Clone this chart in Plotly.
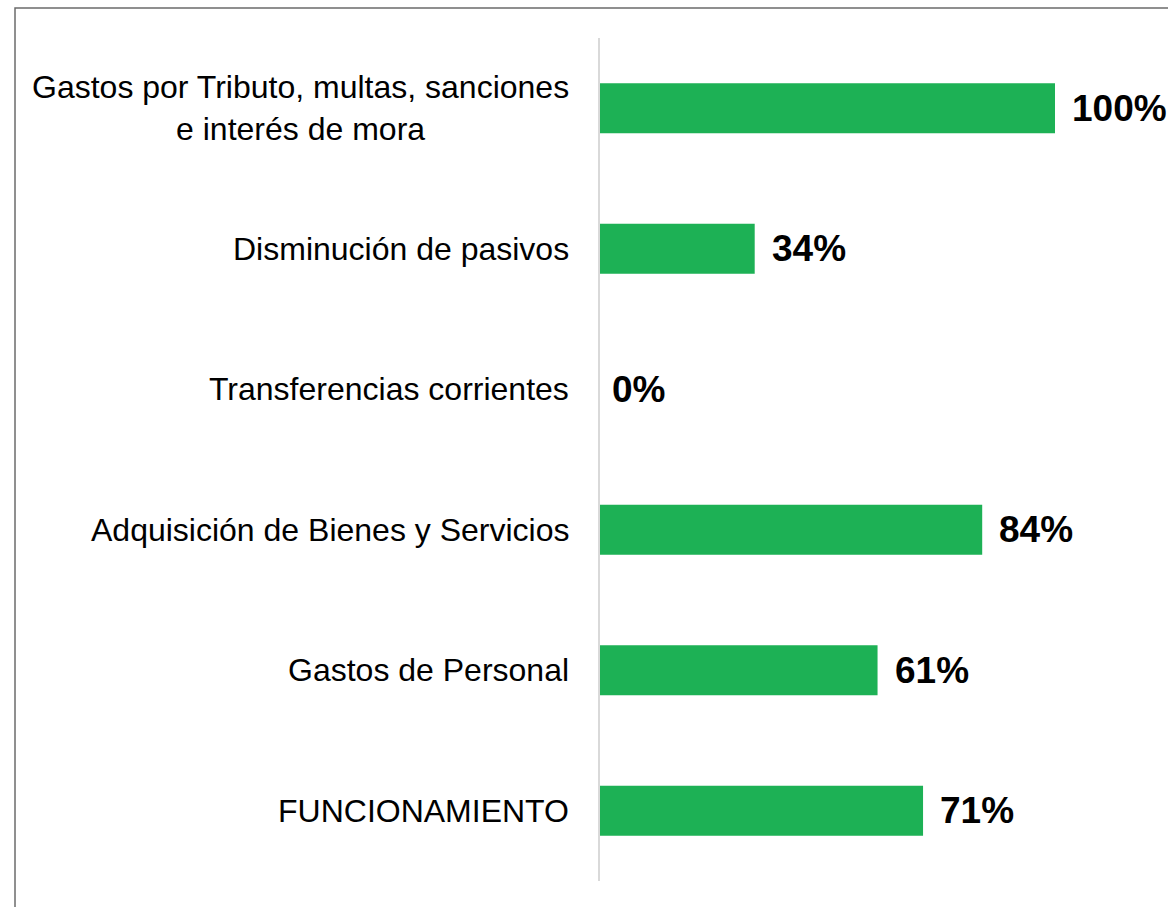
import plotly.graph_objects as go

categories = [
    "Gastos por Tributo, multas, sanciones<br>e interés de mora",
    "Disminución de pasivos",
    "Transferencias corrientes",
    "Adquisición de Bienes y Servicios",
    "Gastos de Personal",
    "FUNCIONAMIENTO",
]
values = [1.00, 0.34, 0.00, 0.84, 0.61, 0.71]
value_labels = [f"{round(v * 100)}%" for v in values]

BAR_COLOR = "#1DB155"
FONT = "Liberation Sans, Arial, sans-serif"

fig = go.Figure()
fig.add_trace(go.Bar(
    x=values,
    y=categories,
    orientation="h",
    marker=dict(color=BAR_COLOR, line=dict(width=0)),
    hoverinfo="skip",
    showlegend=False,
))

# category labels (centered multi-line, right-anchored)
for c in categories:
    fig.add_annotation(
        x=0, y=c, xref="x", yref="y",
        text=c, showarrow=False,
        xanchor="right", yanchor="middle", align="center",
        xshift=-29,
        font=dict(family=FONT, size=32, color="#000000"),
    )

# value labels
for c, v, t in zip(categories, values, value_labels):
    fig.add_annotation(
        x=v, y=c, xref="x", yref="y",
        text=f"<b>{t}</b>", showarrow=False,
        xanchor="left", yanchor="middle",
        xshift=15 if v > 0 else 10,
        font=dict(family=FONT, size=37, color="#000000"),
    )

# outer border (left and top edges)
fig.add_shape(
    type="path", xref="paper", yref="paper",
    path="M -1.2857 -0.05 L -1.2857 1.0356 L 1.3 1.0356",
    line=dict(color="#6b6b6b", width=1.5),
)

fig.update_layout(
    width=1168, height=907,
    margin=dict(l=600, r=113, t=38, b=26),
    paper_bgcolor="white", plot_bgcolor="white",
    bargap=0.644,
    font=dict(family=FONT, color="#000000"),
    xaxis=dict(range=[0, 1], visible=False, fixedrange=True),
    yaxis=dict(
        type="category",
        categoryorder="array", categoryarray=categories,
        autorange="reversed",
        showticklabels=False, ticks="",
        showgrid=False, zeroline=False,
        showline=True, linecolor="#d9d9d9", linewidth=2,
    ),
)

fig.write_html(
    "out.html",
    config={"displayModeBar": False},
    post_script="document.body.style.margin='0';document.body.style.overflow='hidden';",
)
